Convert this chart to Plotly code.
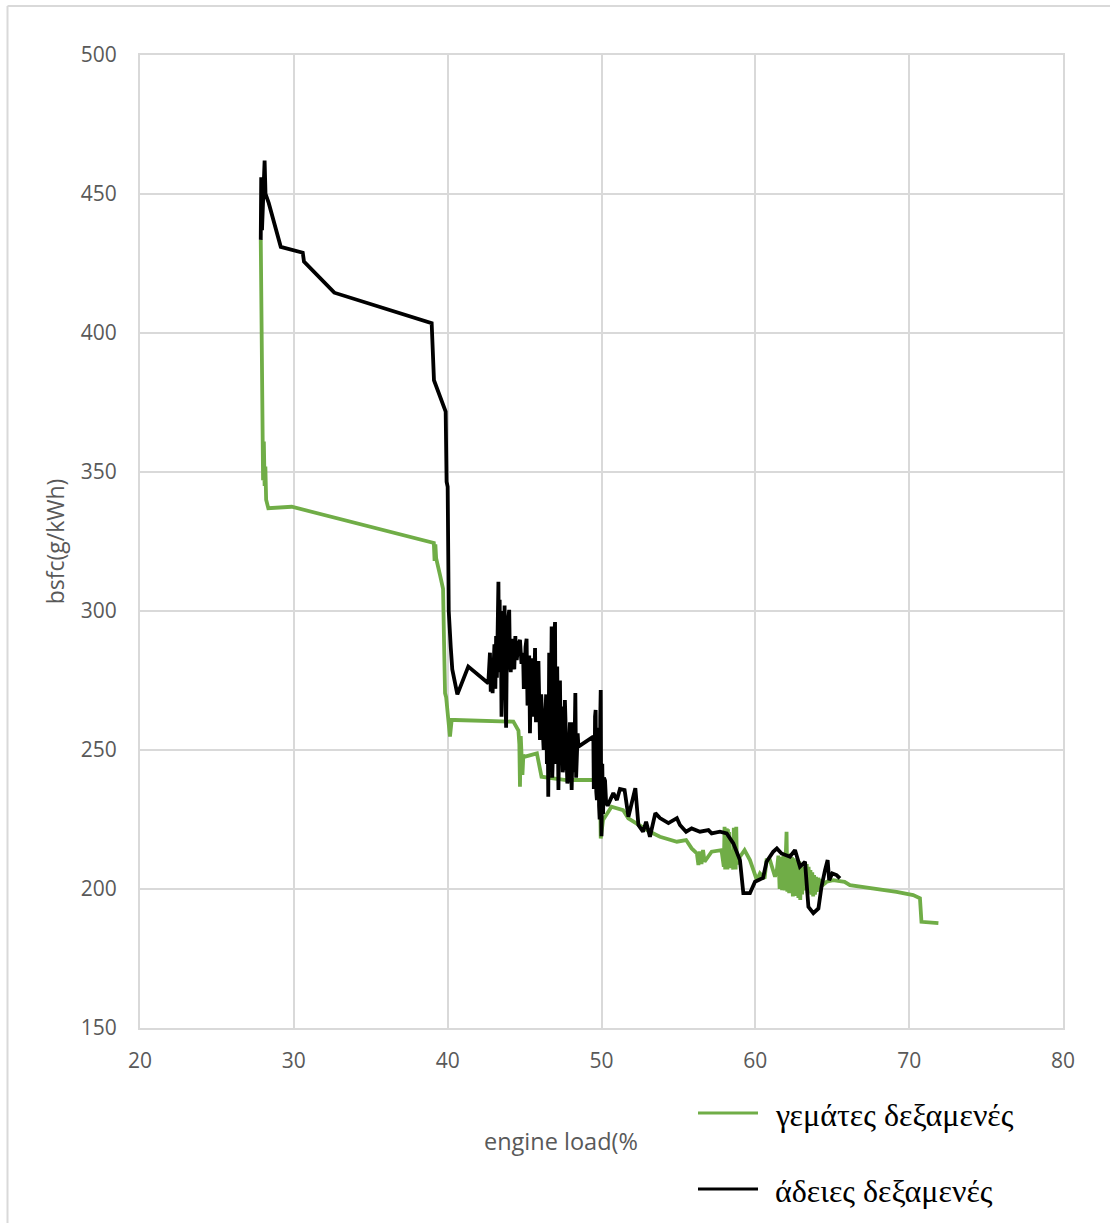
import plotly.graph_objects as go

# engine load (%) and bsfc (g/kWh) for the two tank conditions
full_load = [27.85, 27.90, 27.97, 28.00, 28.05, 28.10, 28.15, 28.20, 28.34, 29.86,
             39.10, 39.15, 39.20, 39.25, 39.50, 39.70, 39.76, 39.83, 39.90, 40.00,
             40.10, 40.15, 40.26, 40.47, 44.27, 44.60, 44.66, 44.70, 44.75, 44.80,
             44.86, 44.92, 45.03, 45.80, 46.10, 46.86, 47.70, 49.50, 49.90, 49.95,
             50.10, 50.65, 51.40, 51.74, 52.40, 53.15, 53.80, 54.24, 54.90, 55.50,
             55.86, 56.20, 56.30, 56.40, 56.50, 56.60, 56.70, 57.16, 57.80, 57.95,
             58.00, 58.04, 58.07, 58.11, 58.14, 58.18, 58.22, 58.26, 58.30, 58.34,
             58.38, 58.50, 58.56, 58.60, 58.64, 58.68, 58.72, 58.76, 58.80, 58.90,
             59.00, 59.30, 59.65, 60.10, 60.30, 60.60, 60.73, 60.95, 61.28, 61.40,
             61.50, 61.58, 61.66, 61.74, 61.82, 61.90, 61.98, 62.03, 62.08, 62.14,
             62.20, 62.26, 62.32, 62.38, 62.44, 62.50, 62.56, 62.62, 62.68, 62.74,
             62.80, 62.86, 62.92, 62.98, 63.04, 63.10, 63.16, 63.22, 63.28, 63.34,
             63.40, 63.46, 63.52, 63.58, 63.64, 63.70, 63.76, 63.82, 63.88, 63.94,
             64.00, 64.10, 64.20, 64.30, 64.40, 64.64, 65.06, 65.80, 66.15, 67.67,
             69.18, 70.26, 70.70, 70.80, 71.90]
full_bsfc = [433.5, 403.4, 389.0, 347.0, 361.0, 345.0, 352.0, 340.0, 337.0, 337.5,
             324.5, 318.0, 324.0, 319.0, 313.0, 308.0, 290.0, 270.4, 269.0, 262.0,
             258.0, 254.8, 260.8, 260.8, 260.2, 257.0, 252.0, 236.8, 255.0, 247.6,
             241.0, 248.0, 247.6, 248.8, 240.4, 239.8, 239.2, 239.2, 238.0, 218.2,
             224.8, 229.6, 228.4, 225.4, 223.0, 220.6, 218.8, 218.2, 217.0, 217.6,
             214.6, 212.8, 208.6, 213.5, 209.0, 214.0, 209.8, 213.4, 214.0, 208.0,
             222.4, 207.0, 221.0, 207.5, 221.8, 207.0, 221.5, 208.0, 220.5, 207.5,
             212.0, 214.0, 207.0, 222.0, 207.5, 221.5, 207.0, 222.4, 209.0, 210.0,
             211.6, 214.0, 210.4, 203.2, 205.6, 203.8, 210.4, 210.4, 204.4, 206.8,
             212.0, 200.0, 211.5, 199.6, 212.0, 199.5, 211.0, 220.6, 199.0, 212.5,
             198.5, 212.8, 199.0, 211.5, 197.3, 211.0, 197.5, 210.4, 198.0, 209.5,
             196.8, 210.0, 196.1, 209.0, 198.0, 208.0, 199.5, 207.5, 199.6, 209.0,
             198.5, 208.0, 200.0, 206.8, 198.0, 206.0, 197.3, 205.0, 198.0, 204.4,
             199.0, 204.0, 200.0, 203.5, 201.5, 202.6, 203.2, 202.6, 201.4, 200.2,
             199.0, 197.8, 196.7, 188.2, 187.7]

empty_load = [27.85, 27.88, 27.93, 28.02, 28.10, 28.16, 28.37, 29.15, 30.58, 30.66,
              32.63, 38.96, 39.11, 39.87, 39.93, 40.00, 40.03, 40.07, 40.20, 40.30,
              40.63, 40.90, 41.34, 42.64, 42.70, 42.75, 42.80, 42.85, 42.92, 42.97,
              43.04, 43.10, 43.15, 43.20, 43.25, 43.30, 43.34, 43.38, 43.42, 43.45,
              43.50, 43.55, 43.60, 43.65, 43.70, 43.75, 43.80, 43.85, 43.90, 43.95,
              44.00, 44.05, 44.10, 44.18, 44.27, 44.33, 44.40, 44.45, 44.50, 44.60,
              44.70, 44.80, 44.90, 44.95, 45.00, 45.06, 45.13, 45.19, 45.25, 45.30,
              45.35, 45.42, 45.50, 45.58, 45.68, 45.74, 45.80, 45.90, 46.00, 46.08,
              46.15, 46.24, 46.33, 46.40, 46.45, 46.50, 46.54, 46.60, 46.65, 46.70,
              46.76, 46.80, 46.85, 46.92, 46.98, 47.02, 47.05, 47.12, 47.20, 47.25,
              47.30, 47.35, 47.40, 47.48, 47.55, 47.62, 47.70, 47.78, 47.85, 47.95,
              48.06, 48.10, 48.15, 48.22, 48.30, 48.35, 48.40, 48.45, 48.50, 49.00,
              49.47, 49.50, 49.55, 49.58, 49.62, 49.66, 49.70, 49.75, 49.80, 49.84,
              49.88, 49.92, 49.95, 49.98, 50.00, 50.05, 50.10, 50.16, 50.23, 50.30,
              50.40, 50.77, 51.00, 51.20, 51.50, 51.75, 52.00, 52.20, 52.40, 52.70,
              52.90, 53.15, 53.50, 53.80, 54.35, 54.90, 55.10, 55.50, 55.86, 56.40,
              56.95, 57.16, 57.70, 58.14, 58.57, 59.00, 59.22, 59.65, 59.98, 60.50,
              60.73, 61.16, 61.40, 61.70, 62.25, 62.58, 62.90, 63.23, 63.45, 63.77,
              64.10, 64.30, 64.53, 64.70, 64.80, 65.00, 65.28, 65.50]
empty_bsfc = [433.5, 456.0, 437.0, 455.0, 462.0, 450.0, 446.7, 431.0, 428.9, 425.7,
              414.5, 403.5, 383.0, 371.7, 346.5, 344.7, 318.0, 300.0, 287.0, 279.0,
              270.0, 274.0, 280.0, 274.0, 279.0, 285.0, 271.0, 282.0, 270.4, 276.0,
              288.0, 272.0, 291.0, 276.0, 295.0, 310.5, 278.0, 304.0, 280.0, 300.0,
              262.0, 295.0, 290.0, 268.0, 302.0, 270.0, 258.0, 288.0, 282.0, 298.0,
              300.4, 281.0, 278.0, 290.0, 286.0, 279.0, 291.0, 283.0, 283.0, 288.0,
              289.6, 281.0, 285.0, 272.0, 275.0, 287.0, 290.0, 266.0, 270.0, 284.0,
              256.0, 283.0, 280.0, 262.0, 286.7, 260.0, 265.0, 282.0, 253.6, 270.0,
              262.0, 250.0, 258.0, 270.0, 245.0, 262.0, 233.2, 285.0, 270.0, 255.0,
              294.4, 240.0, 250.0, 290.0, 296.0, 245.0, 260.0, 280.0, 235.6, 262.0,
              275.0, 250.0, 265.6, 242.0, 245.0, 268.0, 252.5, 238.0, 240.0, 260.0,
              235.6, 250.0, 260.0, 242.0, 270.5, 240.0, 245.0, 256.0, 251.2, 253.0,
              254.8, 236.0, 240.0, 262.0, 264.4, 235.0, 232.0, 255.0, 258.0, 230.0,
              225.0, 262.0, 271.6, 228.0, 219.0, 245.0, 227.0, 240.0, 239.0, 231.0,
              230.0, 234.5, 232.0, 236.0, 235.6, 226.0, 232.0, 236.3, 223.0, 220.6,
              224.2, 218.8, 227.3, 225.5, 223.7, 225.5, 223.0, 220.6, 221.8, 220.6,
              221.2, 220.0, 220.6, 220.0, 216.4, 210.4, 198.5, 198.5, 202.6, 204.0,
              209.8, 213.4, 214.6, 212.8, 211.6, 214.0, 208.0, 209.8, 193.6, 191.3,
              193.0, 200.8, 206.8, 210.4, 203.2, 205.6, 205.0, 203.8]

x_ticks = [20, 30, 40, 50, 60, 70, 80]
y_ticks = [150, 200, 250, 300, 350, 400, 450, 500]

series_names = ["γεμάτες δεξαμενές", "άδειες δεξαμενές"]
GREEN = "#70ad47"
BLACK = "#000000"
GRID = "#d9d9d9"
TEXT = "#595959"
SANS = "Open Sans, sans-serif"
SERIF = "Liberation Serif, Times New Roman, serif"

fig = go.Figure()
fig.add_trace(go.Scatter(x=full_load, y=full_bsfc, mode="lines", name=series_names[0],
                         line=dict(color=GREEN, width=3.8), showlegend=False))
fig.add_trace(go.Scatter(x=empty_load, y=empty_bsfc, mode="lines", name=series_names[1],
                         line=dict(color=BLACK, width=3.8), showlegend=False))

fig.update_layout(
    width=1110, height=1223,
    margin=dict(l=140, r=47, t=55, b=195),
    paper_bgcolor="white", plot_bgcolor="white",
    font=dict(family=SANS, color=TEXT, size=21),
)
fig.update_xaxes(range=[20, 80], tickvals=x_ticks, showgrid=True, gridcolor=GRID, gridwidth=2,
                 showline=True, linecolor=GRID, linewidth=2, mirror=True, zeroline=False,
                 ticks="outside", ticklen=13, tickcolor="rgba(0,0,0,0)",
                 tickfont=dict(family=SANS, size=21, color=TEXT))
fig.update_yaxes(range=[150, 500], tickvals=y_ticks, showgrid=True, gridcolor=GRID, gridwidth=2,
                 showline=True, linecolor=GRID, linewidth=2, mirror=True, zeroline=False,
                 ticks="outside", ticklen=17, tickcolor="rgba(0,0,0,0)",
                 tickfont=dict(family=SANS, size=21, color=TEXT),
                 title=dict(text="bsfc(g/kWh)", font=dict(family=SANS, size=23, color=TEXT),
                            standoff=10))

# helpers to place items in pixel space relative to the plot area
PL, PT, PW, PH = 140, 55, 923, 973
def px(xp):
    return (xp - PL) / PW
def py(yp):
    return (PT + PH - yp) / PH

# x-axis title
fig.add_annotation(x=px(561), y=py(1141), xref="paper", yref="paper", showarrow=False,
                   text="engine load(%", font=dict(family=SANS, size=23.5, color=TEXT),
                   xanchor="center", yanchor="middle")

# legend drawn as line samples with serif labels
legend_rows = [(1113, GREEN), (1189, BLACK)]
for (yp, col), name in zip(legend_rows, series_names):
    fig.add_shape(type="line", xref="paper", yref="paper",
                  x0=px(698), x1=px(758), y0=py(yp), y1=py(yp),
                  line=dict(color=col, width=3))
    fig.add_annotation(x=px(773), y=py(yp + 2), xref="paper", yref="paper", showarrow=False,
                       text=name, font=dict(family=SERIF, size=32, color="#000000"),
                       xanchor="left", yanchor="middle")

# chart frame (top and left edges)
fig.add_shape(type="line", xref="paper", yref="paper", x0=px(7.5), x1=px(1110),
              y0=py(6), y1=py(6), line=dict(color=GRID, width=2))
fig.add_shape(type="line", xref="paper", yref="paper", x0=px(7.5), x1=px(7.5),
              y0=py(6), y1=py(1223), line=dict(color=GRID, width=2))

fig.write_html("out.html")
